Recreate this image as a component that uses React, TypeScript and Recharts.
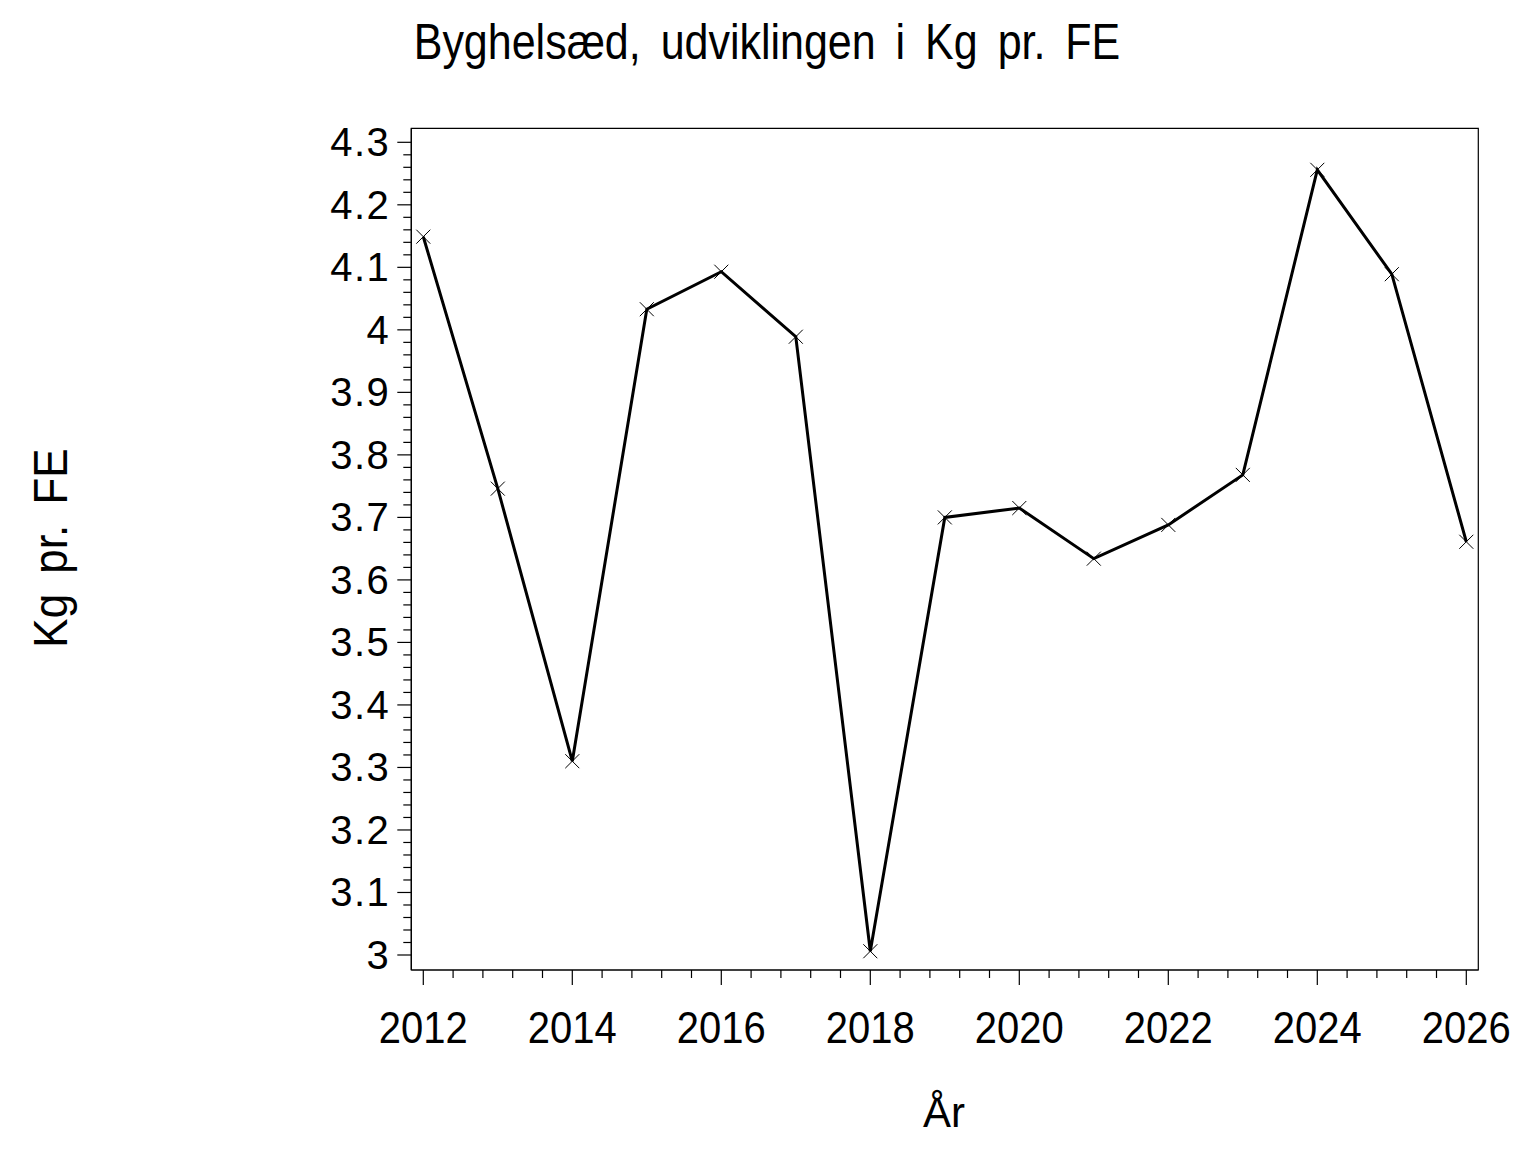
import React from "react";
import { LineChart, Line, XAxis, YAxis, ReferenceArea } from "recharts";

const years = [2012, 2013, 2014, 2015, 2016, 2017, 2018, 2019, 2020, 2021, 2022, 2023, 2024, 2025, 2026];
const kgPerFE = [4.149, 3.746, 3.31, 4.033, 4.093, 3.989, 3.006, 3.7, 3.715, 3.634, 3.688, 3.768, 4.256, 4.089, 3.661];

const xMajorTicks = [2012, 2014, 2016, 2018, 2020, 2022, 2024, 2026];
const yMajorTicks = [3, 3.1, 3.2, 3.3, 3.4, 3.5, 3.6, 3.7, 3.8, 3.9, 4, 4.1, 4.2, 4.3];

const xDomain: [number, number] = [2011.839, 2026.161];
const yDomain: [number, number] = [2.976, 4.3224];

const FONT = '"Liberation Sans", Arial, Helvetica, sans-serif';

const data = years.map((year, i) => ({ year, value: kgPerFE[i] }));

// minor ticks: 4 between each labelled x tick, 4 between each labelled y tick
const xTicks: number[] = [];
for (let i = 0; i < xMajorTicks.length - 1; i++) {
  for (let k = 0; k < 5; k++) xTicks.push(+(xMajorTicks[i] + k * 0.4).toFixed(2));
}
xTicks.push(xMajorTicks[xMajorTicks.length - 1]);

const yTicks: number[] = [];
for (let i = 0; i < yMajorTicks.length - 1; i++) {
  for (let k = 0; k < 5; k++) yTicks.push(+(yMajorTicks[i] + k * 0.02).toFixed(2));
}
yTicks.push(yMajorTicks[yMajorTicks.length - 1]);

const isMajor = (v: number, majors: number[]) => majors.some((m) => Math.abs(m - v) < 1e-6);

const XTick = (props: any) => {
  const { x, y, payload } = props;
  const major = isMajor(payload.value, xMajorTicks);
  return (
    <g>
      <line x1={x} x2={x} y1={y} y2={y + (major ? 15 : 8)} stroke="#000" strokeWidth={1.2} />
      {major && (
        <text
          transform={`translate(${x},${y + 73}) scale(1,1.12)`}
          textAnchor="middle"
          fontSize={40}
          fontFamily={FONT}
          fill="#000"
        >
          {payload.value}
        </text>
      )}
    </g>
  );
};

const YTick = (props: any) => {
  const { x, y, payload } = props;
  const major = isMajor(payload.value, yMajorTicks);
  return (
    <g>
      <line x1={x} x2={x - (major ? 14 : 8)} y1={y} y2={y} stroke="#000" strokeWidth={1.2} />
      {major && (
        <text
          x={x - 21}
          y={y + 14}
          textAnchor="end"
          fontSize={40}
          letterSpacing={1.5}
          fontFamily={FONT}
          fill="#000"
        >
          {String(Number(payload.value.toFixed(1)))}
        </text>
      )}
    </g>
  );
};

const CrossDot = (props: any) => {
  const { cx, cy, index } = props;
  if (cx == null || cy == null) return null;
  const s = 7;
  return (
    <path
      key={`dot-${index}`}
      d={`M${cx - s},${cy - s}L${cx + s},${cy + s}M${cx - s},${cy + s}L${cx + s},${cy - s}`}
      stroke="#000"
      strokeWidth={1}
      fill="none"
    />
  );
};

export default function App() {
  return (
    <div style={{ position: "relative", width: 1528, height: 1144, background: "#fff" }}>
      <LineChart
        width={1528}
        height={1144}
        data={data}
        margin={{ top: 120.3, right: 57.7, bottom: 82, left: 283.3 }}
      >
        <XAxis
          dataKey="year"
          type="number"
          domain={xDomain}
          allowDataOverflow
          ticks={xTicks}
          interval={0}
          tick={<XTick />}
          tickLine={false}
          tickSize={0}
          tickMargin={0}
          height={100}
          axisLine={{ stroke: "#000", strokeWidth: 1.2 }}
        />
        <YAxis
          type="number"
          domain={yDomain}
          allowDataOverflow
          ticks={yTicks}
          interval={0}
          tick={<YTick />}
          tickLine={false}
          tickSize={0}
          tickMargin={0}
          width={120}
          axisLine={{ stroke: "#000", strokeWidth: 1.2 }}
        />
        <ReferenceArea
          x1={xDomain[0]}
          x2={xDomain[1]}
          y1={yDomain[0]}
          y2={yDomain[1]}
          fill="none"
          fillOpacity={0}
          stroke="#000"
          strokeWidth={1.2}
        />
        <Line
          type="linear"
          dataKey="value"
          stroke="#000"
          strokeWidth={3}
          dot={<CrossDot />}
          activeDot={false}
          isAnimationActive={false}
        />
      </LineChart>
      <svg
        width={1528}
        height={1144}
        style={{ position: "absolute", left: 0, top: 0, pointerEvents: "none" }}
      >
        <text
          transform="translate(759,51) scale(1,1.16)"
          textAnchor="middle"
          fontSize={43}
          wordSpacing={8}
          fontFamily={FONT}
          fill="#000"
        >
          Byghelsæd, udviklingen i Kg pr. FE
        </text>
        <text
          transform="translate(59,540) rotate(-90) scale(1,1.08)"
          textAnchor="middle"
          fontSize={44}
          wordSpacing={8}
          fontFamily={FONT}
          fill="#000"
        >
          Kg pr. FE
        </text>
        <text x={936} y={1119} textAnchor="middle" fontSize={42} fontFamily={FONT} fill="#000">
          År
        </text>
      </svg>
    </div>
  );
}
